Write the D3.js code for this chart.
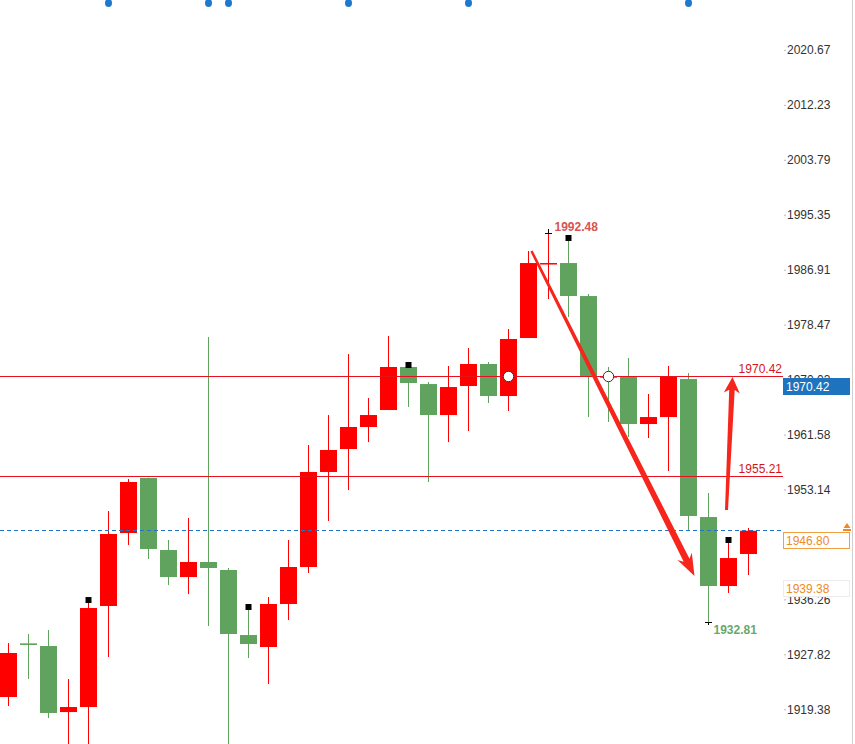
<!DOCTYPE html>
<html><head><meta charset="utf-8">
<script src="https://cdn.jsdelivr.net/npm/d3@7"></script>
<style>body{margin:0;background:#fff;overflow:hidden}svg{display:block;font-family:Arial,"Liberation Sans",sans-serif}</style>
</head><body><svg id="c" width="855" height="744"></svg>
<script>
// ---- data ----
const categories = d3.range(1, 39).map(String);
const opens  = [1921.26,1929.50,1929.09,1918.95,1919.72,1935.24,1946.45,1954.90,1943.84,1939.69,1942.00,1940.77,1930.78,1928.94,1935.55,1941.23,1955.83,1959.36,1962.74,1965.35,1971.96,1969.34,1964.58,1969.04,1972.42,1967.50,1976.41,1987.78,1987.93,1982.86,1970.57,1970.57,1963.20,1964.27,1970.11,1948.91,1938.31,1943.23];
const highs  = [1929.55,1930.94,1931.55,1924.02,1935.85,1949.83,1954.75,1954.95,1945.38,1948.76,1976.57,1941.08,1934.78,1936.62,1945.38,1959.97,1964.58,1973.95,1967.19,1976.72,1971.96,1969.65,1972.11,1974.88,1972.72,1977.79,1989.78,1992.48,1991.47,1983.17,1971.96,1973.34,1967.81,1972.11,1971.03,1952.60,1945.07,1947.22];
const lows   = [1919.88,1924.02,1918.03,1912.50,1911.50,1927.40,1944.61,1942.46,1938.46,1937.08,1932.17,1910.00,1927.25,1923.26,1933.09,1940.31,1948.30,1953.06,1960.43,1965.35,1965.81,1954.29,1960.43,1962.12,1966.43,1965.20,1976.41,1982.40,1979.64,1964.27,1963.51,1961.20,1961.05,1955.98,1946.76,1932.81,1937.24,1940.00];
const closes = [1928.02,1929.25,1918.80,1919.72,1934.93,1946.30,1954.29,1944.00,1939.69,1942.00,1941.08,1930.94,1929.40,1935.55,1941.23,1955.83,1959.21,1962.74,1964.58,1971.96,1969.50,1964.58,1968.88,1972.42,1967.50,1976.26,1987.93,1987.93,1982.86,1970.57,1970.27,1963.20,1964.27,1970.42,1949.07,1938.31,1942.61,1946.80];
const tickValues = [2020.67,2012.23,2003.79,1995.35,1986.91,1978.47,1970.03,1961.58,1953.14,1944.70,1936.26,1927.82,1919.38];
const hiddenTicks = [1944.70];
const levelLines = [1970.42, 1955.21];
const lastPrice = 1946.80;
const indicatorPrice = 1939.38;
const axisBoxPrice = 1970.42;
const highLabel = {i: 27, text: "1992.48"};
const lowLabel = {i: 35, text: "1932.81"};
const squareMarks = [4, 12, 20, 28, 36];
const topDots = [5, 10, 11, 17, 23, 34];
const circleMarks = [{i: 25, v: 1970.42}, {i: 30, v: 1970.42}];
const crossMarks = [{i: 27, kind: "high"}, {i: 35, kind: "low"}];
const arrowFrom = [[26.15, 1989.78], [35.9, 1949.99]];
const arrowTo   = [[34.3, 1939.85], [36.2, 1970.42]];

// ---- scales ----
const W = 855, H = 744;
const svg = d3.select("#c");
const y = d3.scaleLinear().domain([1914.04, 2028.34]).range([H, 0]);
const x = d3.scaleBand().domain(categories).range([-1.5, 758.5]).paddingInner(0.15).paddingOuter(0.075);
const bw = x.bandwidth();
const cx = d3.scaleLinear().domain([0, categories.length - 1])
  .range([x(categories[0]) + bw / 2, x(categories[categories.length - 1]) + bw / 2]);
const row = v => 2 * Math.floor(y(v) / 2);   // snap 1px lines to a pixel row

const RED = "#ff0000", GREEN = "#5fa35f";
const candles = categories.map((c, i) => ({c, i, o: opens[i], h: highs[i], l: lows[i], cl: closes[i]}));
const col = d => d.cl > d.o ? RED : GREEN;

// ---- candles ----
const g = svg.append("g");
g.selectAll("rect.wick").data(candles).enter().append("rect").attr("class", "wick")
  .attr("x", d => Math.floor(cx(d.i))).attr("width", 1)
  .attr("y", d => y(d.h)).attr("height", d => y(d.l) - y(d.h))
  .attr("fill", col);
g.selectAll("rect.body").data(candles).enter().append("rect").attr("class", "body")
  .attr("x", d => x(d.c)).attr("width", bw)
  .attr("y", d => Math.min(y(d.o), y(d.cl)))
  .attr("height", d => Math.max(1.5, Math.abs(y(d.o) - y(d.cl))))
  .attr("fill", col);

// ---- level lines ----
svg.selectAll("rect.lvl").data(levelLines).enter().append("rect").attr("class", "lvl")
  .attr("x", 0).attr("width", 783).attr("y", d => row(d)).attr("height", 1)
  .attr("fill", "#e8101c");
svg.selectAll("text.lvl").data(levelLines).enter().append("text").attr("class", "lvl")
  .attr("x", 782).attr("y", d => row(d) - 3).attr("text-anchor", "end")
  .attr("font-size", 12).attr("fill", "#d4141c").text(d => d.toFixed(2));

// dashed last-price line
const ly = row(lastPrice);
svg.selectAll("rect.dash").data(d3.range(0, 782, 7)).enter().append("rect").attr("class", "dash")
  .attr("x", d => d).attr("width", 4).attr("y", ly).attr("height", 1).attr("fill", "#1f74c6");

// ---- arrows ----
function arrowPath(p0, p1, w0, w1, L, Hh) {
  const dx = p1[0] - p0[0], dy = p1[1] - p0[1], len = Math.hypot(dx, dy);
  const ux = dx / len, uy = dy / len, nx = -uy, ny = ux;
  const b = [p1[0] - ux * L, p1[1] - uy * L];
  const bi = [p1[0] - ux * L * 0.8, p1[1] - uy * L * 0.8];
  const pts = [
    [p0[0] + nx * w0 / 2, p0[1] + ny * w0 / 2],
    [bi[0] + nx * w1 / 2, bi[1] + ny * w1 / 2],
    [b[0] + nx * Hh, b[1] + ny * Hh],
    p1,
    [b[0] - nx * Hh, b[1] - ny * Hh],
    [bi[0] - nx * w1 / 2, bi[1] - ny * w1 / 2],
    [p0[0] - nx * w0 / 2, p0[1] - ny * w0 / 2]
  ];
  return "M" + pts.map(p => p[0].toFixed(1) + "," + p[1].toFixed(1)).join("L") + "Z";
}
const arrowStyle = [[2.5, 6.5, 22, 8], [3, 5.5, 16, 8]];
arrowFrom.forEach((f, k) => {
  const p0 = [cx(f[0]), y(f[1])], p1 = [cx(arrowTo[k][0]), y(arrowTo[k][1])];
  const s = arrowStyle[k];
  svg.append("path").attr("d", arrowPath(p0, p1, s[0], s[1], s[2], s[3])).attr("fill", "#f7261c");
});

// ---- markers ----
svg.selectAll("rect.sq").data(squareMarks).enter().append("rect").attr("class", "sq")
  .attr("x", i => Math.floor(cx(i)) - 2.5).attr("y", i => y(highs[i]) - 5).attr("width", 6).attr("height", 6).attr("fill", "#000");
circleMarks.forEach(m => {
  svg.append("circle").attr("cx", cx(m.i)).attr("cy", row(m.v) + 0.5).attr("r", 5.2)
    .attr("fill", "#fff").attr("stroke", "#333").attr("stroke-width", 1);
});
crossMarks.forEach(m => {
  const v = m.kind === "high" ? highs[m.i] : lows[m.i];
  const yy = Math.round(y(v)), xx = Math.floor(cx(m.i));
  svg.append("rect").attr("x", xx - 3).attr("width", 7).attr("y", yy).attr("height", 1).attr("fill", "#000");
  const vy = m.kind === "high" ? [yy - 4, yy] : [yy, yy + 3];
  svg.append("rect").attr("x", xx).attr("width", 1).attr("y", vy[0]).attr("height", vy[1] - vy[0]).attr("fill", "#000");
});
svg.selectAll("ellipse.dot").data(topDots).enter().append("ellipse").attr("class", "dot")
  .attr("cx", i => cx(i)).attr("cy", 3).attr("rx", 3.5).attr("ry", 4).attr("fill", "#1f78cc");

// high / low labels
svg.append("text").attr("x", cx(highLabel.i) + 6).attr("y", y(highs[highLabel.i]) - 2)
  .attr("font-size", 12).attr("font-weight", "bold").attr("fill", "#d9534f").text(highLabel.text);
svg.append("text").attr("x", cx(lowLabel.i) + 5).attr("y", y(lows[lowLabel.i]) + 12)
  .attr("font-size", 12).attr("font-weight", "bold").attr("fill", "#6aa86a").text(lowLabel.text);

// ---- axis ----
const fmt = d3.format(".2f");
const axis = d3.axisRight(y).tickValues(tickValues).tickSize(2).tickPadding(1)
  .tickFormat(d => hiddenTicks.includes(d) ? "" : fmt(d));
const ag = svg.append("g").attr("transform", "translate(784,0)").call(axis);
ag.select(".domain").remove();
ag.selectAll(".tick line").attr("stroke", "#bbb");
ag.selectAll(".tick text").attr("fill", "#333").attr("font-size", 12).attr("font-family", "Arial, 'Liberation Sans', sans-serif");

// right border
svg.append("rect").attr("x", 852).attr("y", 0).attr("width", 1).attr("height", H).attr("fill", "#cfcfcf");

// ---- axis boxes ----
function box(v, fill, stroke, tcol) {
  const top = Math.round(y(v)) + 1;
  svg.append("rect").attr("x", 783.5).attr("y", top + 0.5).attr("width", 66).attr("height", 16)
    .attr("fill", fill).attr("stroke", stroke);
  svg.append("text").attr("x", 786).attr("y", top + 13).attr("font-size", 12).attr("fill", tcol).text(v.toFixed(2));
}
box(axisBoxPrice, "#1e73be", "#1e73be", "#fff");
box(lastPrice, "#fff", "#f0a040", "#f08a24");
box(indicatorPrice, "#fff", "#ececec", "#f08a24");

// small orange marker above last-price box
svg.append("path").attr("d", `M843.5,${ly - 2}L847,${ly - 7}L850.5,${ly - 2}Z`).attr("fill", "#f08a24");
svg.append("rect").attr("x", 843).attr("y", ly - 1).attr("width", 8).attr("height", 2).attr("fill", "#f08a24");
</script></body></html>
